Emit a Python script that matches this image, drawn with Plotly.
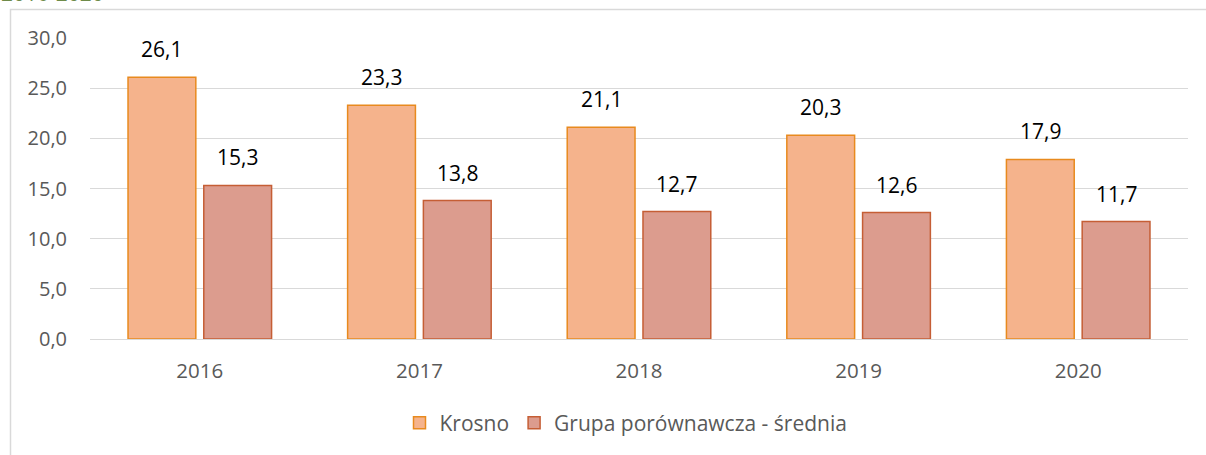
import plotly.graph_objects as go

years = ["2016", "2017", "2018", "2019", "2020"]
krosno = [26.1, 23.3, 21.1, 20.3, 17.9]
grupa = [15.3, 13.8, 12.7, 12.6, 11.7]
series_names = ["Krosno", "Grupa porównawcza - średnia"]
title_text = "2016-2020"

FONT = "Open Sans"
W, H = 1206, 455
ml, mr, mt, mb = 90, 18, 38, 116
pw = W - ml - mr
ph = H - mt - mb
BARGAP = 0.31
BARGROUPGAP = 0.105

def px_to_paper_x(px):
    return (px - ml) / pw

def px_to_paper_y(py):
    return (H - mb - py) / ph

series = [
    (series_names[0], krosno, "#F5B38C", "#E88A1E"),
    (series_names[1], grupa, "#DC9C8E", "#C55E35"),
]

fig = go.Figure()
for name, vals, fill, edge in series:
    fig.add_trace(go.Bar(
        x=years, y=vals, name=name,
        marker=dict(color=fill, line=dict(color=edge, width=1.5)),
    ))

# value labels above bars, positioned with the axis scale
half = (1 - BARGAP) / 4
annotations = []
for k, (name, vals, fill, edge) in enumerate(series):
    off = -half if k == 0 else half
    for i, v in enumerate(vals):
        annotations.append(dict(
            x=i + off, y=v, xref="x", yref="y", text=f"{v:.1f}".replace(".", ","),
            showarrow=False, xanchor="center", yanchor="bottom", yshift=12,
            font=dict(size=21, color="#000000", family=FONT),
        ))

annotations.append(dict(text=title_text, xref="paper", yref="paper",
                        x=px_to_paper_x(0), y=px_to_paper_y(8), xanchor="left", yanchor="bottom",
                        showarrow=False, borderpad=0,
                        font=dict(size=21, color="#6E8B4A", family=FONT)))

fig.update_layout(
    width=W, height=H,
    margin=dict(l=ml, r=mr, t=mt, b=mb),
    paper_bgcolor="white", plot_bgcolor="white",
    separators=", ",
    barmode="group", bargap=BARGAP, bargroupgap=BARGROUPGAP,
    font=dict(family=FONT, color="#595959"),
    showlegend=True,
    legend=dict(orientation="h", x=px_to_paper_x(626), xanchor="center", y=px_to_paper_y(423),
                yanchor="middle",
                font=dict(size=21, color="#595959", family=FONT), itemwidth=30,
                traceorder="normal"),
    xaxis=dict(showgrid=False, ticks="", showline=False, tickfont=dict(size=20.5, color="#595959"),
               ticklabelstandoff=17),
    yaxis=dict(range=[0, 30], dtick=5, tickformat=".1f", showgrid=True, gridcolor="#D9D9D9",
               gridwidth=1.3, zeroline=True, zerolinecolor="#D9D9D9", zerolinewidth=1.3,
               showline=False, ticks="", tickfont=dict(size=20, color="#595959"),
               ticklabelstandoff=22),
    shapes=[dict(type="rect", xref="paper", yref="paper",
                 x0=px_to_paper_x(10.5), x1=px_to_paper_x(1230),
                 y0=px_to_paper_y(480), y1=px_to_paper_y(9.5),
                 line=dict(color="#D9D9D9", width=1.5), fillcolor="rgba(0,0,0,0)", layer="below")],
    annotations=annotations,
)

fig.write_html("out.html", config={"displayModeBar": False},
               post_script="document.body.style.margin='0px';")
